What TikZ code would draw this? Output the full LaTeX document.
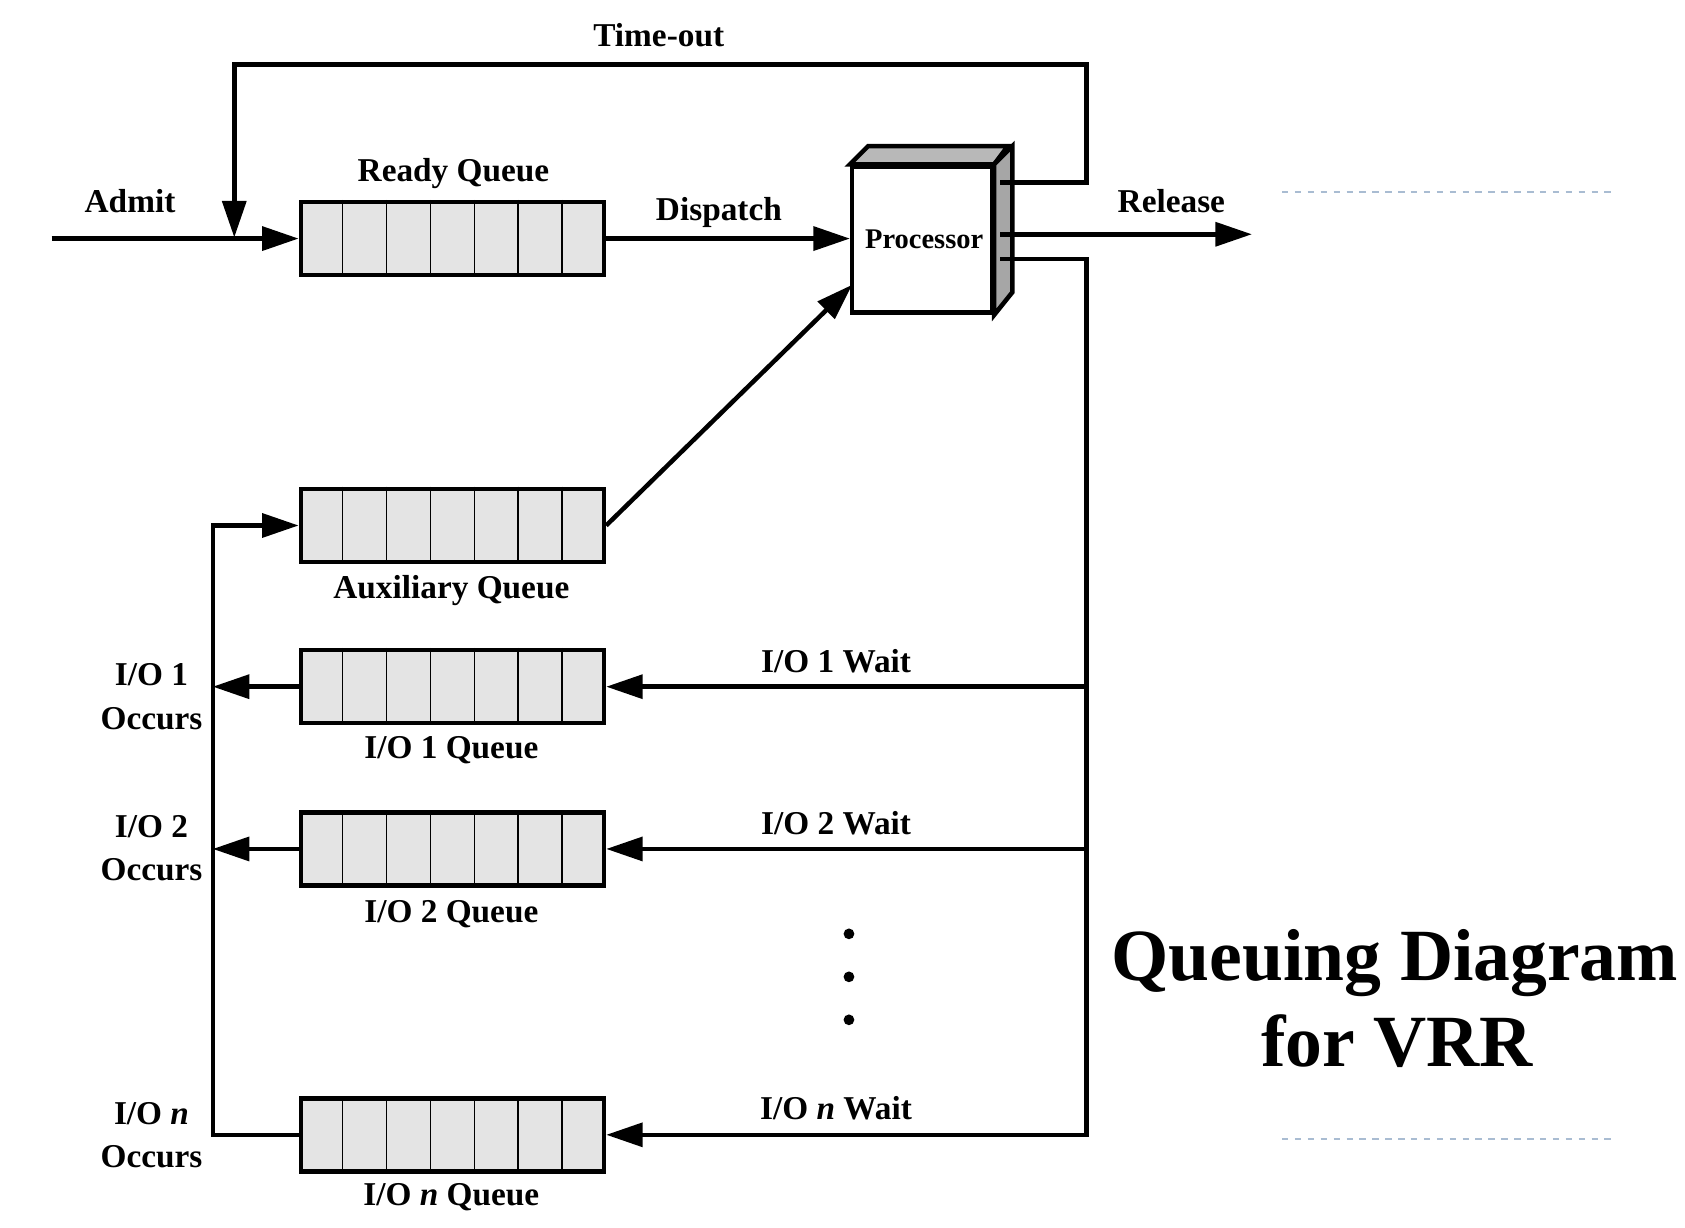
\documentclass[tikz,border=0pt]{standalone}
\usepackage{fontspec}
\setmainfont{Liberation Serif}
\usetikzlibrary{arrows.meta,calc}
\definecolor{qgray}{HTML}{E4E4E4}
\definecolor{topgray}{HTML}{B8B8B8}
\definecolor{sidegray}{HTML}{A6A6A6}
\definecolor{dashblue}{HTML}{A9BCD2}
\tikzset{
  conn/.style={line width=4.2pt},
  arr/.style={conn,-{Triangle[length=34pt,width=22pt]}},
  qbox/.style={draw,line width=4.2pt,fill=qgray,minimum width=282pt,minimum height=68pt,inner sep=0pt},
  lbl/.style={font=\bfseries\fontsize{31}{37}\selectfont,anchor=base,inner sep=0pt},
  ttl/.style={font=\bfseries\fontsize{68.5}{80}\selectfont,anchor=base,inner sep=0pt},
  dashrule/.style={dashblue,line width=2pt,dash pattern=on 6pt off 6pt},
}
\newcommand\drawqueue[3]{%
  \node[qbox] (#1) at (#2,#3) {};
  \foreach \k in {1,...,6}
    \draw[line width=1.6pt] ($(#1.north west)!{\k/7}!(#1.north east)$) -- ($(#1.south west)!{\k/7}!(#1.south east)$);
}
\begin{document}
\begin{tikzpicture}[x=1pt,y=-1pt]
\fill[white] (0,0) rectangle (1568,1142.7);
\useasboundingbox (0,0) rectangle (1568,1142.7);

% queues
\drawqueue{ready}{421}{222}
\drawqueue{aux}{421}{489}
\drawqueue{ioa}{421}{639}
\drawqueue{iob}{421}{790}
\drawqueue{ion}{421}{1056}

% processor
\node[draw,line width=4.2pt,fill=white,minimum width=130pt,minimum height=136pt,inner sep=0pt,
      font=\bfseries\fontsize{26.5}{30}\selectfont] (proc) at (858,223) {\hspace*{4pt}Processor};
\draw[line width=4.2pt,fill=topgray,line join=miter] (proc.north west) -- ++(17,-17) -- ++(130,0) -- (proc.north east) -- cycle;
\draw[line width=4.2pt,fill=sidegray,line join=miter] (proc.north east) -- ++(17,-17) -- ++(0,136) -- (proc.south east) -- cycle;

% coordinates
\coordinate (adm) at (48,222);
\coordinate (tos) at (931,170);
\coordinate (tor) at (1011,170);
\coordinate (tot) at (1011,60);
\coordinate (tol) at (218,60);
\coordinate (tob) at (218,221);
\coordinate (rel) at (931,218);
\coordinate (relend) at (1165,218);
\coordinate (iow) at (931,241);
\coordinate (wx) at (1011,241);
\coordinate (lx) at (198,489);
\coordinate (auxin) at (793,265);

% connectors
\draw[arr] (adm) -- (ready.west);
\draw[arr] (tos) -- (tor) -- (tot) -- (tol) -- (tob);
\draw[arr] (ready.east) -- (proc.west |- ready.east);
\draw[arr] (aux.east) -- (auxin);
\draw[arr] (rel) -- (relend);
\draw[arr] (iow) -- (wx) |- (ion.east);
\draw[arr] (wx |- ioa.east) -- (ioa.east);
\draw[arr] (wx |- iob.east) -- (iob.east);
\draw[arr] (ioa.west) -- (ioa.west -| lx);
\draw[arr] (iob.west) -- (iob.west -| lx);
\draw[arr] (ion.west) -| (lx) -- (aux.west);

% dots
\fill (790,869) circle[radius=5pt];
\fill (790,909) circle[radius=5pt];
\fill (790,949) circle[radius=5pt];

% labels
\node[lbl] (ltime) at (613,43.5) {Time-out};
\node[lbl] (lready) at (422,168.5) {Ready Queue};
\node[lbl] (ladmit) at (121,197.5) {Admit};
\node[lbl] (ldisp) at (669,205) {Dispatch};
\node[lbl] (lrel) at (1090,197.5) {Release};
\node[lbl] (laux) at (420,557) {Auxiliary Queue};
\node[lbl] (lwa) at (778,625.5) {I/O 1 Wait};
\node[lbl] (lwb) at (778,776.5) {I/O 2 Wait};
\node[lbl] (lwn) at (778,1041.5) {I/O \textit{n} Wait};
\node[lbl] (loa1) at (141,637.5) {I/O 1};
\node[lbl] (loa2) at (141,678.5) {Occurs};
\node[lbl] (lob1) at (141,779.5) {I/O 2};
\node[lbl] (lob2) at (141,819.5) {Occurs};
\node[lbl] (lon1) at (141,1046.5) {I/O \textit{n}};
\node[lbl] (lon2) at (141,1086.5) {Occurs};
\node[lbl] (lqa) at (420,705.5) {I/O 1 Queue};
\node[lbl] (lqb) at (420,858.5) {I/O 2 Queue};
\node[lbl] (lqn) at (420,1121.5) {I/O \textit{n} Queue};

% title
\node[ttl] (t1) at (1298,912.5) {Queuing Diagram};
\node[ttl] (t2) at (1300,992.5) {for VRR};

% dashed rules
\coordinate (da1) at (1193,179); \coordinate (da2) at (1501,179);
\coordinate (db1) at (1193,1060); \coordinate (db2) at (1501,1060);
\draw[dashrule] (da1) -- (da2);
\draw[dashrule] (db1) -- (db2);
\end{tikzpicture}
\end{document}
